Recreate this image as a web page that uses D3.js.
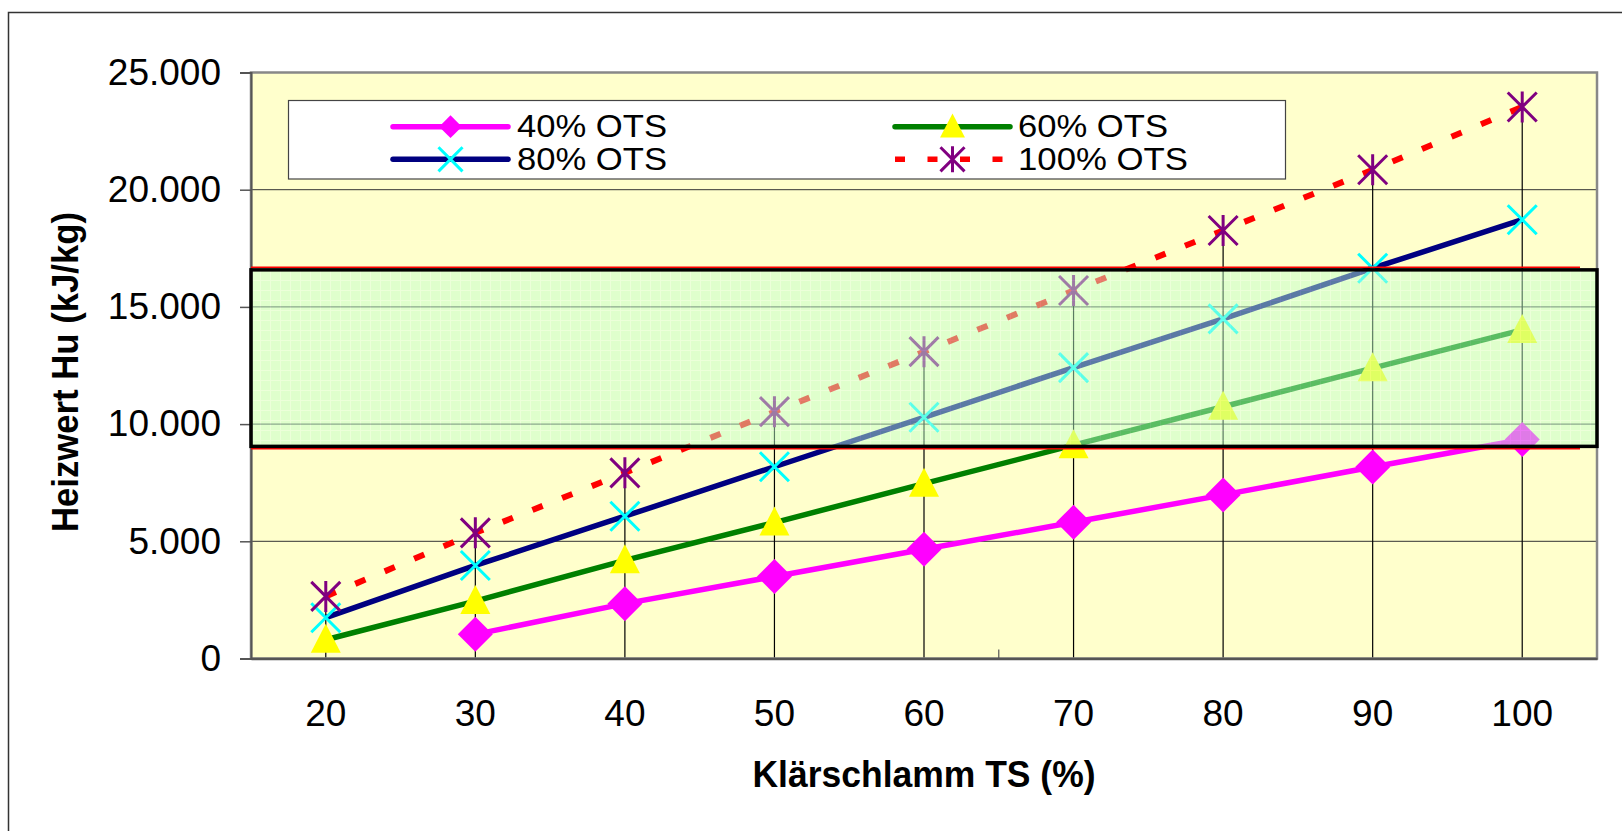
<!DOCTYPE html>
<html><head><meta charset="utf-8">
<script src="https://cdn.jsdelivr.net/npm/d3@7"></script>
<style>
html,body{margin:0;padding:0;background:#fff;}
svg{display:block;font-family:"Liberation Sans",Arial,sans-serif;}
</style></head>
<body>
<svg id="chart" width="1622" height="831"></svg>
<script>
// ---- data ----
const categories = [20, 30, 40, 50, 60, 70, 80, 90, 100];
const ots40  = [null, 1030, 2340, 3500, 4660, 5810, 6980, 8170, 9340];
const ots60  = [800, 2450, 4190, 5800, 7460, 9100, 10740, 12390, 14020];
const ots80  = [1740, 3970, 6070, 8180, 10290, 12410, 14490, 16650, 18720];
const ots100 = [2650, 5360, 7920, 10530, 13090, 15700, 18260, 20850, 23530];
const seriesNames = ["40% OTS", "60% OTS", "80% OTS", "100% OTS"];
const yTicks = [0, 5000, 10000, 15000, 20000, 25000];
const yTickLabels = ["0", "5.000", "10.000", "15.000", "20.000", "25.000"];
const bandRange = [9050, 16580];
const xTitle = "Klärschlamm TS (%)";
const yTitle = "Heizwert Hu (kJ/kg)";

(function () {
// ---- layout ----
const svg = d3.select("#chart");
const pL = 251, pR = 1597, pT = 72.5, pB = 658.5;
const x = d3.scaleBand().domain(categories).range([pL, pR]);
const y = d3.scaleLinear().domain([0, 25000]).range([pB, pT]);
const cx = c => x(c) + x.bandwidth() / 2;

const defs = svg.append("defs");
const pat = defs.append("pattern").attr("id", "grid").attr("width", 10).attr("height", 10)
  .attr("patternUnits", "userSpaceOnUse");
pat.append("rect").attr("width", 10).attr("height", 10).attr("fill", "#bdffcc");
pat.append("path").attr("d", "M0,0.5H10M0.5,0V10").attr("stroke", "#d8ffe8").attr("stroke-width", 1);

// outer chart border
svg.append("rect").attr("x", 8.5).attr("y", 12.5).attr("width", 1700).attr("height", 1000)
  .attr("fill", "#fff").attr("stroke", "#333").attr("stroke-width", 1.5);

// plot background
svg.append("rect").attr("x", pL).attr("y", pT).attr("width", pR - pL).attr("height", pB - pT)
  .attr("fill", "#ffffcc");

// gridlines
svg.append("g").selectAll("line").data(yTicks.filter(t => t > 0 && t < 25000)).join("line")
  .attr("x1", pL).attr("x2", pR).attr("y1", d => y(d)).attr("y2", d => y(d))
  .attr("stroke", "#333").attr("stroke-width", 1);

// drop lines
const allSeries = [ots40, ots60, ots80, ots100];
svg.append("g").selectAll("line").data(categories).join("line")
  .attr("x1", c => cx(c)).attr("x2", c => cx(c))
  .attr("y1", (c, i) => y(d3.max(allSeries, s => s[i])))
  .attr("y2", y(0))
  .attr("stroke", "#000").attr("stroke-width", 1.2);

// plot border
svg.append("rect").attr("x", pL).attr("y", pT).attr("width", pR - pL).attr("height", pB - pT)
  .attr("fill", "none").attr("stroke", "#888").attr("stroke-width", 2.5);

// y axis
const yAxis = d3.axisLeft(y).tickValues(yTicks).tickSize(11).tickFormat((d, i) => yTickLabels[i]);
const gy = svg.append("g").attr("transform", `translate(${pL},0)`).call(yAxis);
gy.select(".domain").attr("stroke", "#555").attr("stroke-width", 2);
gy.selectAll(".tick line").attr("stroke", "#555").attr("stroke-width", 1.5);
gy.selectAll(".tick text").attr("x", -30).attr("font-size", 37).attr("fill", "#000")
  .attr("font-family", "Liberation Sans, Arial, sans-serif");

// x axis
const xAxis = d3.axisBottom(x).tickSize(0).tickPadding(0);
const gx = svg.append("g").attr("transform", `translate(0,${pB})`).call(xAxis);
gx.select(".domain").attr("stroke", "#555").attr("stroke-width", 2.5);
gx.selectAll(".tick text").attr("y", 55).attr("dy", "0.35em").attr("font-size", 37).attr("fill", "#000")
  .attr("font-family", "Liberation Sans, Arial, sans-serif");
// inner tick mark at category boundary
svg.append("line").attr("x1", x(categories[5])).attr("x2", x(categories[5]))
  .attr("y1", pB - 9).attr("y2", pB).attr("stroke", "#555").attr("stroke-width", 1.2);

// series lines
const styles = [
  {line: "#ff00ff", marker: "diamond", mcolor: "#ff00ff", dash: null},
  {line: "#008000", marker: "triangle", mcolor: "#ffff00", dash: null},
  {line: "#000080", marker: "x", mcolor: "#00ffff", dash: null},
  {line: "#ff0000", marker: "star", mcolor: "#800080", dash: "11,21"}
];
const lineGen = d3.line().defined(d => d.v != null).x(d => cx(d.c)).y(d => y(d.v));
const seriesData = allSeries.map(s => s.map((v, i) => ({c: categories[i], v})));

function markerPath(type, s) {
  if (type === "diamond") { const h = 17.5 * s, w = 17.5 * s; return `M0,${-h}L${w},0L0,${h}L${-w},0Z`; }
  if (type === "triangle") { const w = 15 * s, h = 29 * s; return `M0,${-h * 0.55}L${w},${h * 0.45}L${-w},${h * 0.45}Z`; }
  if (type === "x") { const a = 14.5 * s; return `M${-a},${-a}L${a},${a}M${-a},${a}L${a},${-a}`; }
  if (type === "star") { const a = 14.5 * s; return `M${-a},${-a}L${a},${a}M${-a},${a}L${a},${-a}M0,${-a - 1}L0,${a + 1}`; }
}
function drawMarker(g, type, color, s) {
  const filled = type === "diamond" || type === "triangle";
  g.append("path").attr("d", markerPath(type, s))
    .attr("fill", filled ? color : "none")
    .attr("stroke", filled ? "none" : color)
    .attr("stroke-width", filled ? 0 : 3);
}

seriesData.forEach((data, k) => {
  const st = styles[k];
  svg.append("path").datum(data).attr("d", lineGen).attr("fill", "none")
    .attr("stroke", st.line).attr("stroke-width", st.dash ? 6 : 5.5)
    .attr("stroke-dasharray", st.dash).attr("stroke-linejoin", "round");
});
seriesData.forEach((data, k) => {
  const st = styles[k];
  data.filter(d => d.v != null).forEach(d => {
    const g = svg.append("g").attr("transform", `translate(${cx(d.c)},${y(d.v)})`);
    drawMarker(g, st.marker, st.mcolor, 1);
  });
});

// highlighted band overlay
const by0 = y(bandRange[1]), by1 = y(bandRange[0]);
svg.append("rect").attr("x", pL).attr("y", by0).attr("width", pR - pL).attr("height", by1 - by0)
  .attr("fill", "url(#grid)").attr("fill-opacity", 0.48);
svg.append("line").attr("x1", pL).attr("x2", 1580).attr("y1", by0 - 2.5).attr("y2", by0 - 2.5)
  .attr("stroke", "#ff0000").attr("stroke-width", 1.5);
svg.append("line").attr("x1", pL).attr("x2", 1580).attr("y1", by1 + 2.5).attr("y2", by1 + 2.5)
  .attr("stroke", "#ff0000").attr("stroke-width", 1.5);
svg.append("rect").attr("x", pL).attr("y", by0).attr("width", pR - pL).attr("height", by1 - by0)
  .attr("fill", "none").attr("stroke", "#000").attr("stroke-width", 3.5);

// legend
const lg = svg.append("g");
lg.append("rect").attr("x", 288.5).attr("y", 100.5).attr("width", 997).attr("height", 78.5)
  .attr("fill", "#fff").attr("stroke", "#444").attr("stroke-width", 1.2);
const legendPos = [
  {x1: 393, x2: 508, y: 126.7, tx: 517, ty: 136.5},
  {x1: 895, x2: 1010, y: 126.7, tx: 1018, ty: 136.5},
  {x1: 393, x2: 508, y: 159.3, tx: 517, ty: 169.5},
  {x1: 895, x2: 1010, y: 159.3, tx: 1018, ty: 169.5}
];
const legendOrder = [0, 1, 2, 3];
const textWidths = [150, 150, 150, 170];
legendOrder.forEach((k, j) => {
  const p = legendPos[j], st = styles[k];
  lg.append("line").attr("x1", p.x1).attr("x2", p.x2).attr("y1", p.y).attr("y2", p.y)
    .attr("stroke", st.line).attr("stroke-width", 5.5)
    .attr("stroke-linecap", st.dash ? "butt" : "round")
    .attr("stroke-dasharray", st.dash ? "10,22.5" : null);
  const g = lg.append("g").attr("transform", `translate(${(p.x1 + p.x2) / 2},${p.y})`);
  drawMarker(g, st.marker, st.mcolor, st.marker === "diamond" ? 0.65 : 0.83);
  lg.append("text").attr("x", p.tx).attr("y", p.ty).attr("font-size", 31).attr("fill", "#000")
    .attr("textLength", textWidths[k]).attr("lengthAdjust", "spacingAndGlyphs")
    .text(seriesNames[k]);
});

// axis titles
svg.append("text").attr("x", (pL + pR) / 2).attr("y", 774).attr("dy", "0.35em")
  .attr("text-anchor", "middle").attr("font-size", 36).attr("font-weight", "bold")
  .attr("textLength", 343).attr("lengthAdjust", "spacingAndGlyphs").text(xTitle);
svg.append("text").attr("transform", "translate(65,372) rotate(-90)").attr("dy", "0.35em")
  .attr("text-anchor", "middle").attr("font-size", 36).attr("font-weight", "bold")
  .attr("textLength", 320).attr("lengthAdjust", "spacingAndGlyphs").text(yTitle);
})();
</script>
</body></html>
